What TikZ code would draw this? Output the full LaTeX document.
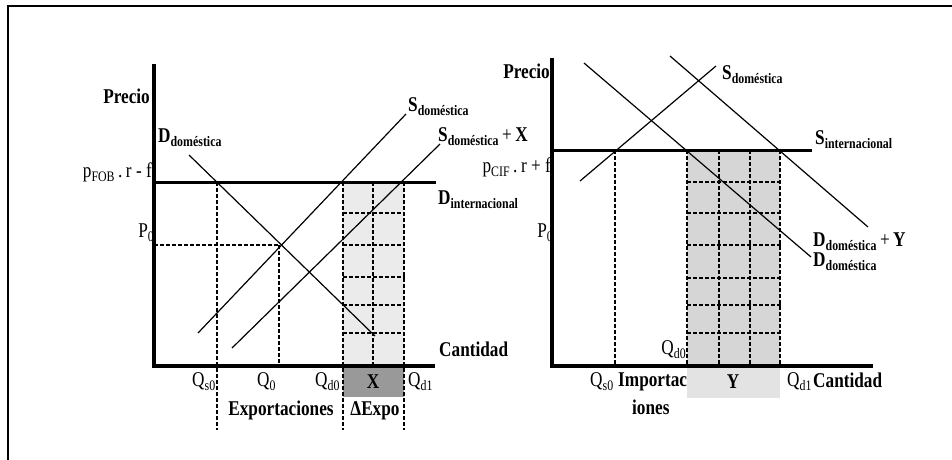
\documentclass[tikz,border=0pt]{standalone}
\usepackage{fontspec}
\setmainfont[FakeStretch=0.82]{Liberation Serif}
\newcommand{\lsub}[1]{\raisebox{-4pt}{\fontsize{14.5}{14.5}\selectfont #1}}
\definecolor{boxL}{HTML}{EBEBEB}
\definecolor{boxX}{HTML}{999999}
\definecolor{boxR}{HTML}{D6D6D6}
\definecolor{boxY}{HTML}{E3E3E3}
\tikzset{
  lbl/.style={font=\bfseries\fontsize{21}{21}\selectfont, inner sep=0pt},
  reg/.style={font=\fontsize{21}{21}\selectfont, inner sep=0pt},
  axis/.style={line width=4pt},
  priceline/.style={line width=3pt},
  dline/.style={line width=1.8pt, dash pattern=on 4pt off 2pt},
  curve/.style={line width=1.2pt}
}
\begin{document}
\begin{tikzpicture}[x=1pt,y=-1pt]
\useasboundingbox (0,0) rectangle (952,459);
\begin{scope}
\clip (0,0) rectangle (952,459);
\draw[line width=1.5pt] (8,6) rectangle (970,480);
\end{scope}

% ---------------- LEFT PANEL ----------------
\fill[boxL] (343,182) rectangle (404,366);
\fill[boxX] (343,368) rectangle (404,397);
% dashed verticals
\draw[dline] (217,182) -- (217,430);
\draw[dline] (279,245) -- (279,366);
\draw[dline] (343,182) -- (343,430);
\draw[dline] (373,182) -- (373,366);
\draw[dline] (404,182) -- (404,430);
% dashed horizontals
\draw[dline] (154,245) -- (279,245);
\foreach \yy in {213,245,277,305,333} \draw[dline] (343,\yy) -- (405,\yy);
% curves
\coordinate (dL1) at (189,155); \coordinate (dL2) at (375,336);
\coordinate (sL1) at (198,333); \coordinate (sL2) at (406,114);
\coordinate (sxL1) at (232,348); \coordinate (sxL2) at (440,144);
\draw[curve] (dL1) -- (dL2);
\draw[curve] (sL1) -- (sL2);
\draw[curve] (sxL1) -- (sxL2);
% price line and axes
\draw[priceline] (154,182) -- (436,182);
\draw[axis] (154,64) -- (154,366) -- (435,366);

\node[lbl, anchor=base east] (precioL) at (150,103) {Precio};
\node[lbl, anchor=base west] (dDomL) at (158,142) {D\lsub{doméstica}};
\node[reg, anchor=base east] (pfob) at (152,177) {p\lsub{FOB}\,.\,r - f};
\node[reg, anchor=base east] (p0L) at (154,237) {P\lsub{0}};
\node[lbl, anchor=base west] (sDomL) at (408,111) {S\lsub{doméstica}};
\node[lbl, anchor=base west] (sDomX) at (438,141) {S\lsub{doméstica}\,{\mdseries +}\,X};
\node[lbl, anchor=base west] (dInt) at (438,204) {D\lsub{internacional}};
\node[lbl, anchor=base west] (cantL) at (439,356) {Cantidad};
\node[reg, anchor=base west] (qs0L) at (192,386) {Q\lsub{s0}};
\node[reg, anchor=base west] (q0L) at (257,386) {Q\lsub{0}};
\node[reg, anchor=base west] (qd0L) at (315,386) {Q\lsub{d0}};
\node[lbl, anchor=base] (xL) at (373,388) {X};
\node[reg, anchor=base west] (qd1L) at (408,386) {Q\lsub{d1}};
\node[lbl, anchor=base] (expo) at (281,415) {Exportaciones};
\node[lbl, anchor=base] (dexpo) at (375,415) {ΔExpo};

% ---------------- RIGHT PANEL ----------------
\fill[boxR] (687,150) rectangle (780,366);
\fill[boxY] (687,368) rectangle (780,398);
\draw[dline] (615,150) -- (615,366);
\draw[dline] (687,150) -- (687,366);
\draw[dline] (719,150) -- (719,366);
\draw[dline] (750,150) -- (750,366);
\draw[dline] (780,150) -- (780,366);
\foreach \yy in {182,213,245,278,305,333} \draw[dline] (687,\yy) -- (781,\yy);
\coordinate (sR1) at (580,181); \coordinate (sR2) at (716,66);
\coordinate (dR1) at (584,63); \coordinate (dR2) at (811,257);
\coordinate (dyR1) at (670,56); \coordinate (dyR2) at (868,227);
\draw[curve] (sR1) -- (sR2);
\draw[curve] (dR1) -- (dR2);
\draw[curve] (dyR1) -- (dyR2);
\draw[priceline] (552,150) -- (812,150);
\draw[axis] (552,58) -- (552,366) -- (873,366);

\node[lbl, anchor=base east] (precioR) at (550,78) {Precio};
\node[reg, anchor=base east] (pcif) at (551,172) {p\lsub{CIF}\,.\,r + f};
\node[reg, anchor=base east] (p0R) at (553,237) {P\lsub{0}};
\node[lbl, anchor=base west] (sDomR) at (722,79) {S\lsub{doméstica}};
\node[lbl, anchor=base west] (sInt) at (815,144) {S\lsub{internacional}};
\node[lbl, anchor=base west] (dDomY) at (813,246) {D\lsub{doméstica}\,{\mdseries +}\,Y};
\node[lbl, anchor=base west] (dDomR) at (813,266) {D\lsub{doméstica}};
\node[reg, anchor=base east] (qd0R) at (686,354) {Q\lsub{d0}};
\node[reg, anchor=base west] (qs0R) at (590,386) {Q\lsub{s0}};
\node[lbl, anchor=base west] (impo1) at (618,386) {Importac};
\node[lbl, anchor=base west] (impo2) at (632,414) {iones};
\node[lbl, anchor=base] (yR) at (733,388) {Y};
\node[reg, anchor=base west] (qd1R) at (787,386) {Q\lsub{d1}};
\node[lbl, anchor=base west] (cantR) at (813,387) {Cantidad};
\end{tikzpicture}
\end{document}
